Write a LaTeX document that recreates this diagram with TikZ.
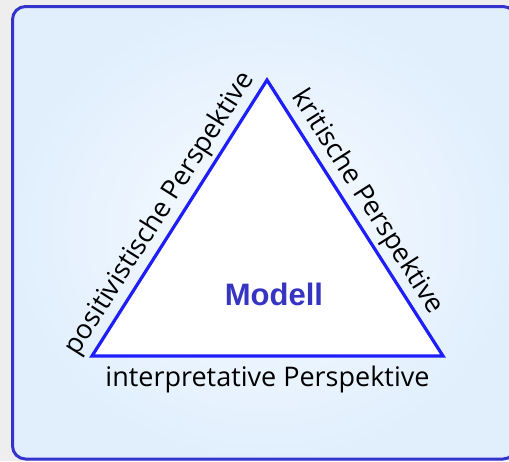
\documentclass[tikz,border=0pt]{standalone}
\usepackage{fontspec}
\setmainfont{Open Sans}
\newfontfamily\modellfont{Liberation Sans}
\usetikzlibrary{calc}
\definecolor{pagegray}{HTML}{EEEEEE}
\definecolor{framecol}{HTML}{3434CC}
\definecolor{panelin}{HTML}{F8FBFF}
\definecolor{panelout}{HTML}{E1EFFD}
\definecolor{edgeblue}{HTML}{1E1EFA}
\definecolor{modellblue}{HTML}{3535C2}
\tikzset{
  panel/.style={draw=framecol, line width=3pt, rounded corners=13pt,
    inner color=panelin, outer color=panelout},
  sidelabel/.style={font=\fontsize{27}{30}\selectfont, text=black, inner sep=0pt},
  modelllabel/.style={font=\modellfont\bfseries\fontsize{31}{33}\selectfont, text=modellblue}
}
\begin{document}
\begin{tikzpicture}[x=1pt,y=-1pt]
  \useasboundingbox (0,0) rectangle (509,461);
  \fill[pagegray] (0,0) rectangle (509,461);
  % framed panel
  \path[panel] (12.5,6.5) rectangle (516,459);
  % triangle corners
  \coordinate (top) at (267,80);
  \coordinate (left) at (92,356);
  \coordinate (right) at (443,356);
  \filldraw[fill=white, draw=edgeblue, line width=3.2pt, line join=miter]
    (top) -- (right) -- (left) -- cycle;
  % labels along the sides
  \path (left) -- (top)
    node[sidelabel, pos=0.48, sloped, above=5pt] (pos) {positivistische Perspektive};
  \path (top) -- (right)
    node[sidelabel, pos=0.48, sloped, above=5pt] (krit) {kritische Perspektive};
  \path (left) -- (right)
    node[sidelabel, midway, below=10pt] (int) {interpretative Perspektive};
  \node[modelllabel] (modell) at (274,294) {Modell};
\end{tikzpicture}
\end{document}
